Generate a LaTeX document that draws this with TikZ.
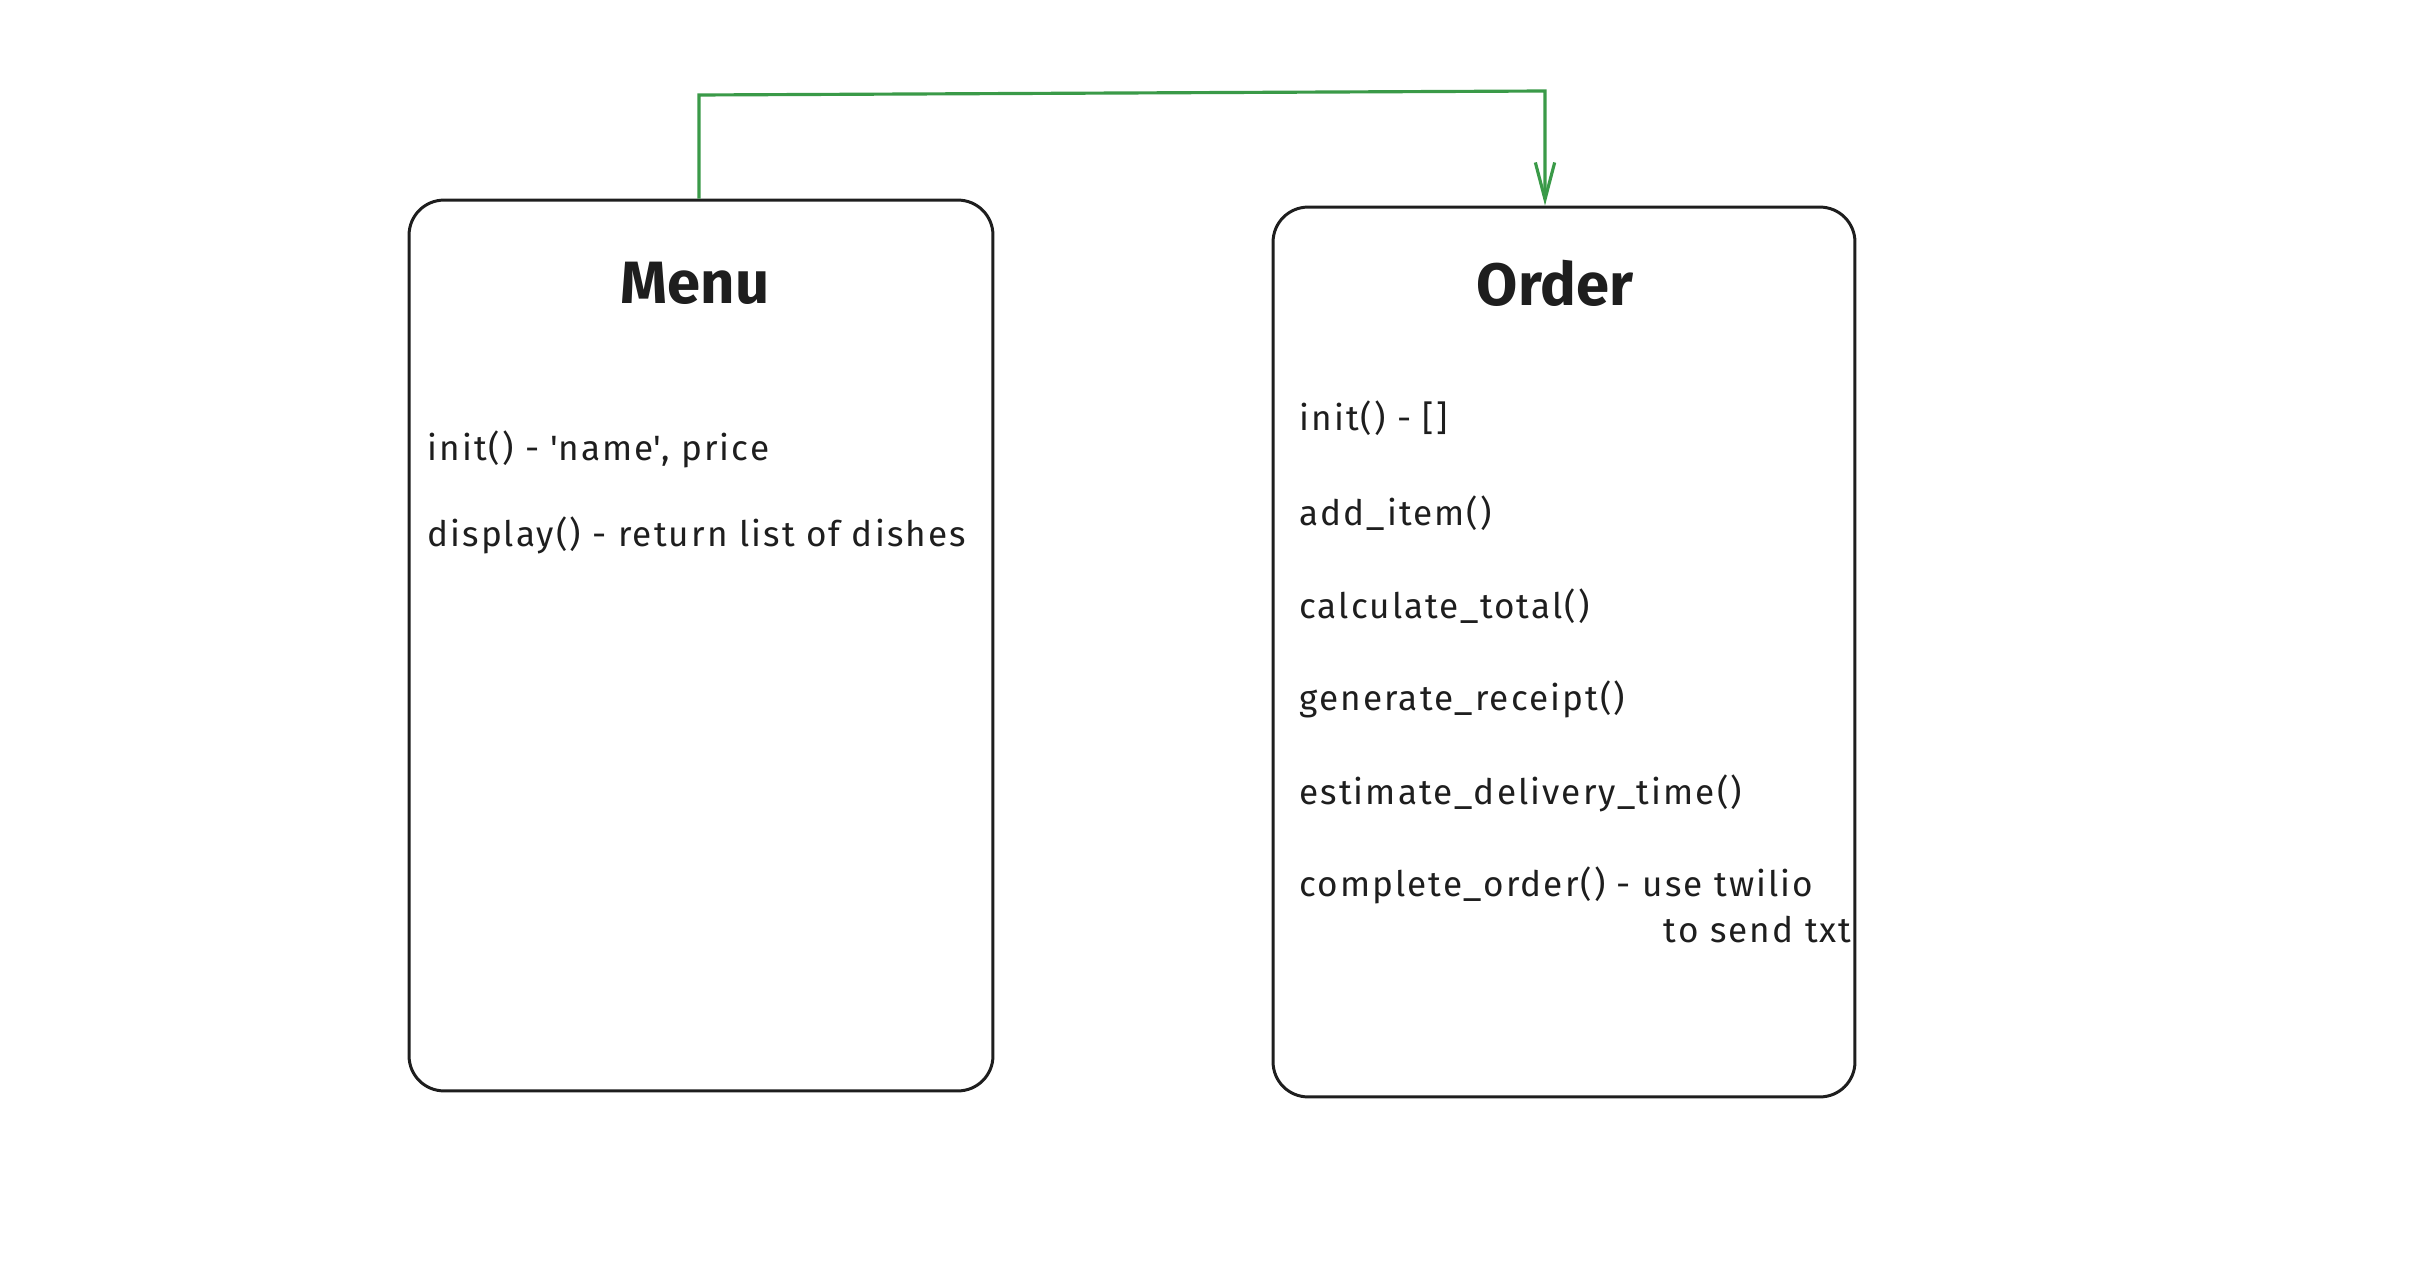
\documentclass[tikz,border=0pt]{standalone}
\usepackage{fontspec}
\setmainfont{Fira Sans}
\newfontfamily\memberfont[LetterSpace=6]{Fira Sans}
\usetikzlibrary{arrows.meta}
\definecolor{ink}{HTML}{1E1E1E}
\definecolor{linkgreen}{HTML}{3A9A48}
\tikzset{
  classbox/.style={draw=ink, line width=1.7pt, rounded corners=0.7cm, fill=white},
  title/.style={font=\fontsize{34}{40}\selectfont\bfseries, text=ink},
  member/.style={font=\memberfont\fontsize{20}{24}\selectfont, text=ink, anchor=west, inner sep=0pt},
  link/.style={draw=linkgreen, line width=1.8pt},
}
\begin{document}
\begin{tikzpicture}[x=0.02cm, y=-0.02cm]
\useasboundingbox (0,0) rectangle (2410,1270);
\node[classbox, minimum width=11.68cm, minimum height=17.82cm] (menu) at (701,645.5) {};
\node[classbox, minimum width=11.64cm, minimum height=17.80cm] (order) at (1564,652) {};
\node[title] (menut) at (695,283) {Menu};
\node[title] (ordert) at (1555,283) {Order};
\node[member] (m1) at (427,449) {init() - \textquotesingle name\textquotesingle, price};
\node[member] (m2) at (427,535) {display() - return list of dishes};
\node[member] (o1) at (1299,418) {init() - []};
\node[member] (o2) at (1299,513) {add\_item()};
\node[member] (o3) at (1299,606) {calculate\_total()};
\node[member] (o4) at (1299,699) {generate\_receipt()};
\node[member] (o5) at (1299,793) {estimate\_delivery\_time()};
\node[member] (o6) at (1299,885) {complete\_order() - use twilio};
\node[member, anchor=east] (o7) at (1852,930) {to send txt};
\coordinate (c1) at (699,95);
\coordinate (c2) at (1545,91);
\draw[link, -{Straight Barb[length=21pt, width=11pt, line width=1.8pt]}]
  (menu.north -| c1) -- (c1) -- (c2) -- (order.north -| c2);
\end{tikzpicture}
\end{document}
